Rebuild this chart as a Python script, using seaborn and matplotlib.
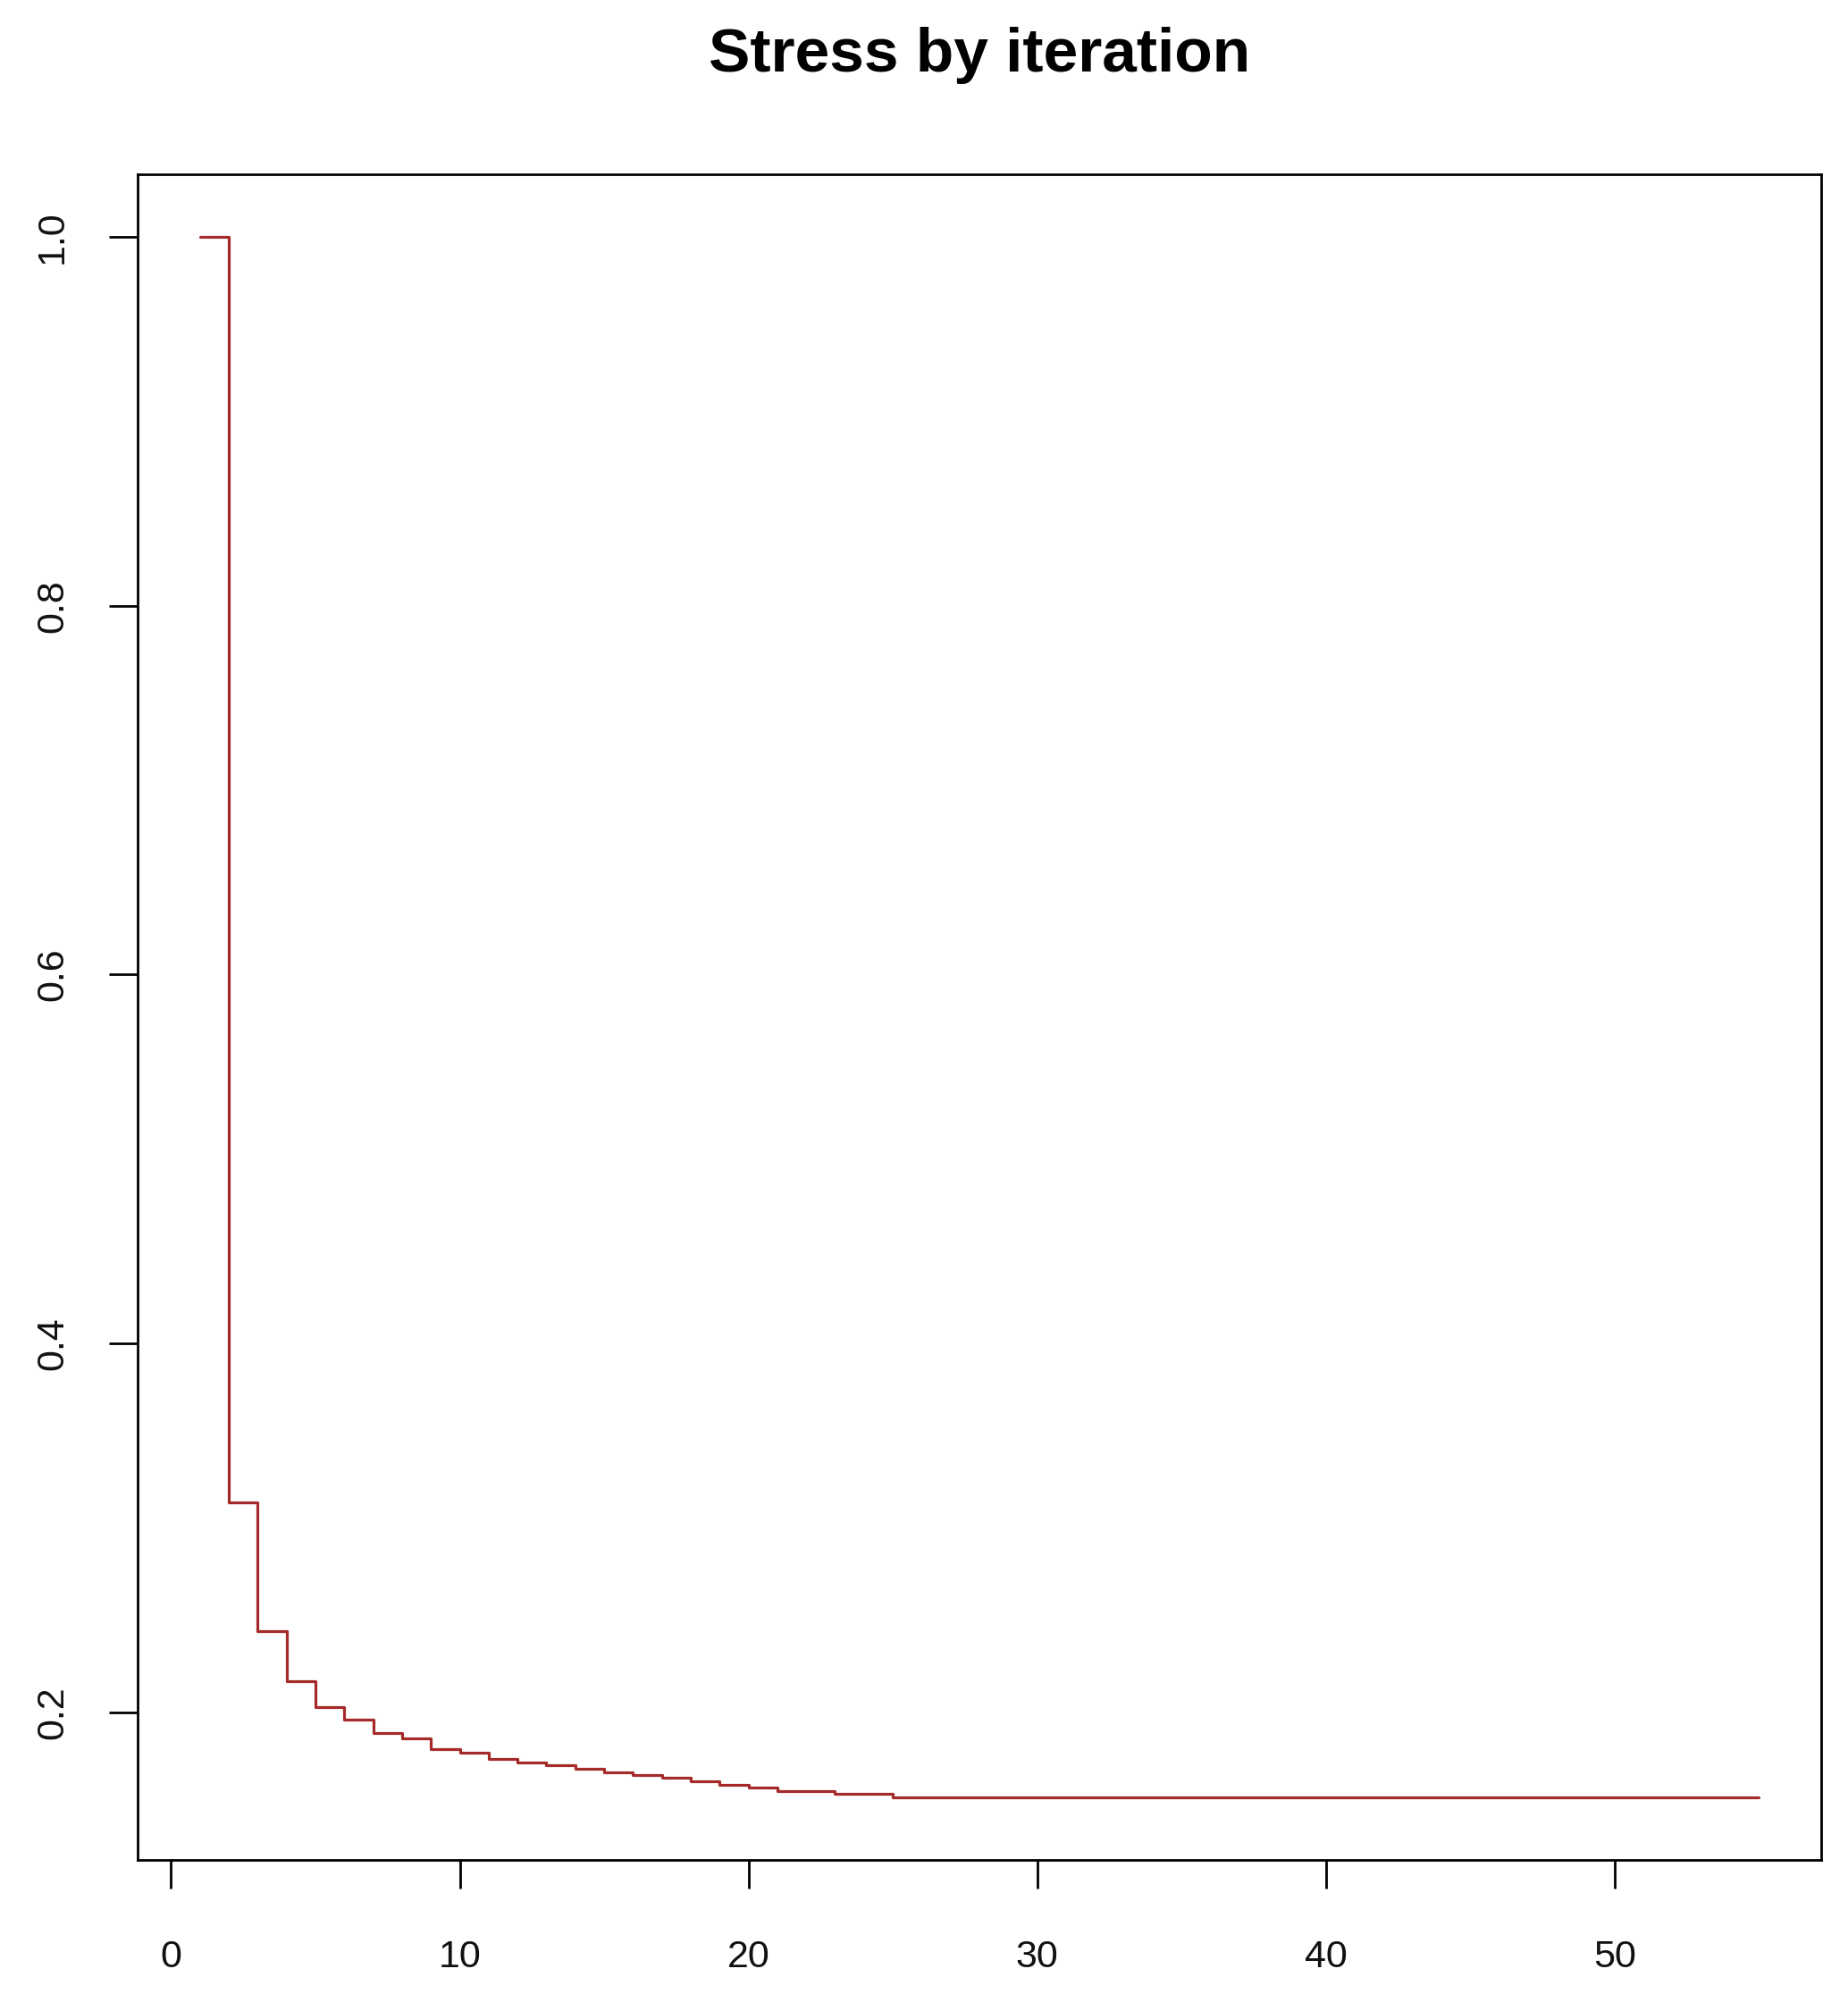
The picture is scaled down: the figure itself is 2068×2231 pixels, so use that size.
import matplotlib
matplotlib.use("Agg")
import matplotlib.pyplot as plt
import seaborn as sns
import pandas as pd

iterations = list(range(1, 56))
stress_head = [1.0, 0.314, 0.244, 0.217, 0.203, 0.196, 0.189, 0.186, 0.180,
               0.178, 0.175, 0.173, 0.1715, 0.1695, 0.1677, 0.1660, 0.1644,
               0.1626, 0.1608, 0.1591, 0.1574, 0.1574, 0.1557, 0.1557]
stress_tail = [0.1539] * (55 - len(stress_head))
stress = stress_head + stress_tail

x_ticks = [0, 10, 20, 30, 40, 50]
y_ticks = [0.2, 0.4, 0.6, 0.8, 1.0]
y_tick_labels = ["0.2", "0.4", "0.6", "0.8", "1.0"]
title = "Stress by iteration"

df = pd.DataFrame({"iteration": iterations, "stress": stress})

sns.set_style("ticks")
plt.rcParams["font.family"] = ["Liberation Sans", "DejaVu Sans"]

W, H = 2068, 2231
fig = plt.figure(figsize=(W / 100, H / 100), dpi=100)
left, right, top, bottom = 154, 2038, 195, 2081
ax = fig.add_axes([left / W, 1 - bottom / H, (right - left) / W, (bottom - top) / H])

sns.lineplot(data=df, x="iteration", y="stress", ax=ax, color="#A52A2A",
             linewidth=2.3, drawstyle="steps-post")

ax.set_xlim(1 - 0.04 * 54, 55 + 0.04 * 54)
ymin, ymax = min(stress), max(stress)
yr = ymax - ymin
ax.set_ylim(ymin - 0.04 * yr, ymax + 0.04 * yr)

ax.set_xticks(x_ticks)
ax.set_xticklabels([str(t) for t in x_ticks])
ax.set_yticks(y_ticks)
ax.set_yticklabels(y_tick_labels, rotation=90, va="center")
ax.set_xlabel("")
ax.set_ylabel("")

for s in ax.spines.values():
    s.set_visible(True)
    s.set_linewidth(2.0)
    s.set_color("black")
ax.tick_params(axis="both", length=23, width=2.0, color="black",
               labelsize=31, labelcolor="#111111")
ax.tick_params(axis="x", pad=41)
ax.tick_params(axis="y", pad=31)
ax.set_facecolor("white")
fig.patch.set_facecolor("white")

fig.text((left + right) / 2 / W, 1 - 80 / H, title, ha="center", va="baseline",
         fontsize=50, fontweight="bold", color="black")

fig.savefig("out.png", dpi=100, facecolor="white")
